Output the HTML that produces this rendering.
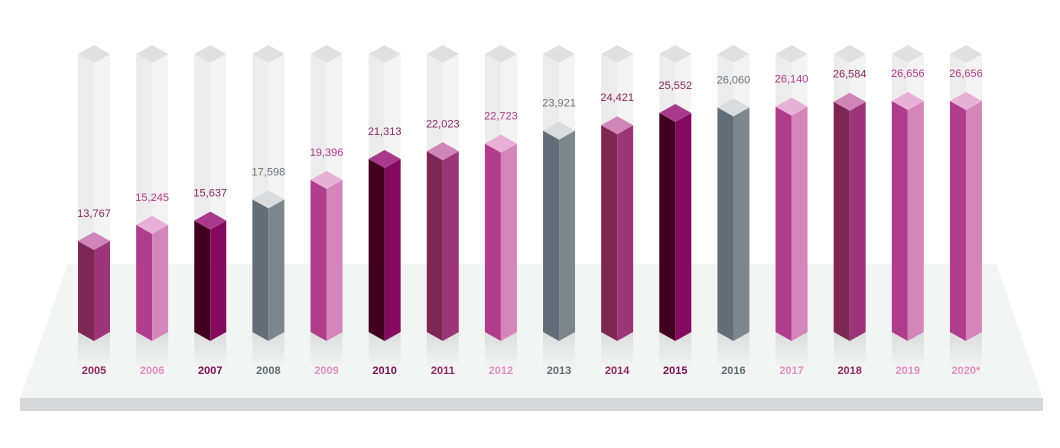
<!DOCTYPE html>
<html><head><meta charset="utf-8">
<style>
html,body{margin:0;padding:0;background:#fff;}
svg{display:block;font-family:"Liberation Sans","DejaVu Sans",sans-serif;}
</style></head>
<body>
<svg id="chart" width="1060" height="448" viewBox="0 0 1060 448" xmlns="http://www.w3.org/2000/svg">
<defs>
<linearGradient id="refl" x1="0" y1="0" x2="0" y2="1">
<stop offset="0" stop-color="#000" stop-opacity="0.1"/>
<stop offset="1" stop-color="#000" stop-opacity="0"/>
</linearGradient>
</defs>
<polygon points="68,264 996,264 1043,398 20,398" fill="#f3f4f4"/>
<rect x="20" y="398" width="1023" height="13" fill="#d6d9d9"/>
<g id="bars"></g>
</svg>
<script>
const years = ["2005","2006","2007","2008","2009","2010","2011","2012","2013","2014","2015","2016","2017","2018","2019","2020*"];
const values = [13767,15245,15637,17598,19396,21313,22023,22723,23921,24421,25552,26060,26140,26584,26656,26656];
const valueLabels = ["13,767","15,245","15,637","17,598","19,396","21,313","22,023","22,723","23,921","24,421","25,552","26,060","26,140","26,584","26,656","26,656"];
const styleKeys = ["A","B","C","D","B","C","A","B","D","A","C","D","B","A","B","B"];

const palette = {
  A:{l:"#7e2752",r:"#9c3577",t:"#d085b9",txt:"#8a2a62",val:"#8a2a62"},
  B:{l:"#b03c8c",r:"#d486ba",t:"#e8b0d6",txt:"#e090c4",val:"#b03c8c"},
  C:{l:"#420020",r:"#830a5e",t:"#a9398a",txt:"#7a0e55",val:"#8a2a62"},
  D:{l:"#616e77",r:"#7c878d",t:"#dadbdc",txt:"#5e6a72",val:"#6a757c"}
};
const x0 = 94, step = 58.13, hw = 16, dh = 9, bottomFront = 341;
function xScale(i){ return x0 + i*step; }
function yScale(v){ return 381.5 - v*0.010862; } // apex y of top diamond
const ghostApex = 45;

const g = document.getElementById("bars");
const NS = "http://www.w3.org/2000/svg";
function poly(pts, fill, name){
  const p = document.createElementNS(NS,"polygon");
  p.setAttribute("points", pts.map(a=>a.join(",")).join(" "));
  p.setAttribute("fill", fill);
  
  
  g.appendChild(p);
  return p;
}
function text(x,y,str,fill,weight,name){
  const t = document.createElementNS(NS,"text");
  t.setAttribute("x",x); t.setAttribute("y",y);
  t.setAttribute("text-anchor","middle");
  t.setAttribute("font-size","11");
  t.setAttribute("fill",fill);
  if(weight) t.setAttribute("font-weight",weight);
  t.textContent = str;
  
  
  g.appendChild(t);
}
years.forEach((yr,i)=>{
  const c = xScale(i), L = c-hw, R = c+hw;
  const pal = palette[styleKeys[i]];
  const sb = bottomFront - dh;
  // ghost column
  const ga = ghostApex;
  poly([[L,ga+dh],[c,ga+2*dh],[c,bottomFront],[L,sb]],"#ececec","ghost-left-"+yr);
  poly([[c,ga+2*dh],[R,ga+dh],[R,sb],[c,bottomFront]],"#f3f3f3","ghost-right-"+yr);
  poly([[c,ga],[R,ga+dh],[c,ga+2*dh],[L,ga+dh]],"#e0e0e0","ghost-top-"+yr);
  // reflection
  poly([[L,sb],[c,bottomFront],[R,sb],[R,sb+36],[L,sb+36]],"url(#refl)","reflection-"+yr);
  // bar
  const a = yScale(values[i]);
  poly([[L,a+dh],[c,a+2*dh],[c,bottomFront],[L,sb]],pal.l,"bar-left-"+yr);
  poly([[c,a+2*dh],[R,a+dh],[R,sb],[c,bottomFront]],pal.r,"bar-right-"+yr);
  poly([[c,a],[R,a+dh],[c,a+2*dh],[L,a+dh]],pal.t,"bar-top-"+yr);
  text(c, a-15, valueLabels[i], pal.val, null, "value-label-"+yr);
  text(c, 374, yr, pal.txt, "bold", "year-label-"+yr);
});
</script>
</body></html>
